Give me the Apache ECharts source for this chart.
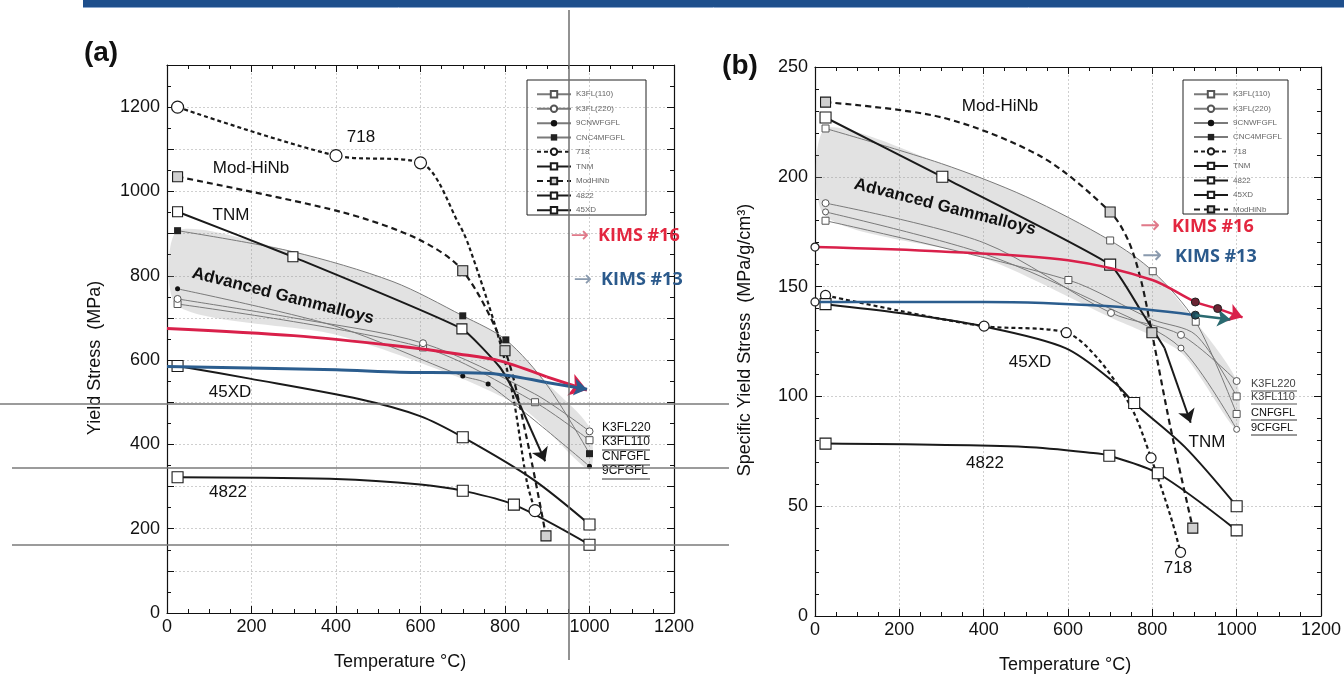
<!DOCTYPE html>
<html><head><meta charset="utf-8">
<script src="https://cdn.jsdelivr.net/npm/echarts@6/dist/echarts.min.js"></script>
<style>html,body{margin:0;padding:0;background:#fff}#c{width:1344px;height:677px}</style>
</head><body><div id="c"></div>
<script>
// ---------- Panel (a): Yield stress (MPa) vs temperature ----------
// [temperature, value, marker(1) / curve point(0) / open marker(2)]
const a_718      = [[25,1200,1],[400,1085,1],[600,1068,1],[693,919,0],[717,864,0],[781,667,0],[819,514,0],[852,310,0],[871,243,1]];
const a_modhinb  = [[25,1035,1],[410,952,0],[592,888,0],[700,812,1],[800,622,1],[852,412,0],[897,183,1]];
const a_tnm      = [[25,952,1],[298,845,1],[698,674,1],[788,583,0],[819,531,0]];
const a_tnmArrow = [[819,531],[895,360]];
const a_4822     = [[25,322,1],[400,318,0],[600,305,0],[700,290,1],[821,257,1],[1000,162,1]];
const a_45xd     = [[25,586,1],[196,556,0],[457,507,0],[599,467,0],[700,417,1],[866,317,0],[1000,210,1]];
const a_k3fl110  = [[25,733,1],[606,630,1],[871,500,1],[1000,410,1]];
const a_k3fl220  = [[25,745,1],[300,700,0],[606,640,1],[870,520,0],[1000,431,1]];
const a_9cnw     = [[25,769,1],[400,680,0],[700,562,1],[760,543,1],[1000,348,1]];
const a_cnc4     = [[25,907,1],[298,857,0],[535,786,0],[700,705,1],[802,648,1],[900,540,0],[1000,378,1]];
const a_bandTop  = [[25,907],[298,857],[535,786],[700,705],[802,648],[900,545],[1000,440]];
const a_bandBot  = [[1000,340],[850,480],[700,555],[400,660],[25,728]];
const a_kims16   = [[0,675],[300,658],[551,633],[693,614],[788,598],[899,560]];
const a_kims16Ar = [[899,560],[994,529]];
const a_kims13   = [[0,585],[400,577],[551,571],[693,570],[788,566],[899,547]];
const a_kims13Ar = [[899,547],[994,531]];

// ---------- Panel (b): Specific yield stress (MPa/g/cm3) ----------
const b_718      = [[25,146,1],[200,139,0],[401,132,1],[596,129,1],[672,117,0],[750,95,0],[797,72,1],[844,45,0],[867,29,1]];
const b_modhinb  = [[25,234,1],[302,227,0],[538,209,0],[700,184,1],[743,171,0],[773,153,0],[799,129,1],[844,85,0],[896,40,1]];
const b_tnm      = [[25,227,1],[302,200,1],[700,160,1],[773,139,0],[829,122,0]];
const b_tnmArrow = [[829,122],[891,88]];
const b_4822     = [[25,78.5,1],[500,77,0],[672,74,0],[698,73,1],[813,65,1],[1000,39,1]];
const b_45xd     = [[25,142,1],[200,138,0],[396,132,0],[594,122,0],[712,106,0],[757,97,1],[877,77,0],[1000,50,1]];
const b_cnc4     = [[25,222,1],[300,206,0],[500,191,0],[700,171,1],[801,157,1],[903,134,1],[1000,92,1]];
const b_k3fl110  = [[25,180,1],[601,153,1],[800,135,0],[903,128,0],[1000,100,1]];
const b_k3fl220  = [[25,188,1],[400,170,0],[702,138,1],[868,128,1],[1000,107,1]];
const b_9cnw     = [[25,184,1],[400,165,0],[700,140,0],[868,122,1],[1000,85,1]];
const b_bandTop  = [[25,222],[300,206],[500,191],[700,171],[801,157],[903,134],[1000,107]];
const b_bandBot  = [[1000,85],[868,120],[700,136],[400,163],[25,182]];
const b_kims16   = [[0,168,2],[300,166,0],[600,162,0],[800,153,0],[902,143,1],[955,140,1]];
const b_kims16Ar = [[955,140],[1014,136]];
const b_kims13   = [[0,143,2],[400,143,0],[700,141,0],[902,137,1]];
const b_kims13Ar = [[902,137],[985,135]];

const legendA = ['K3FL(110)','K3FL(220)','9CNWFGFL','CNC4MFGFL','718','TNM','ModHiNb','4822','45XD'];
const legendB = ['K3FL(110)','K3FL(220)','9CNWFGFL','CNC4MFGFL','718','TNM','4822','45XD','ModHiNb'];

const FONT = '"Liberation Sans", Arial, sans-serif';
const chart = echarts.init(document.getElementById('c'));

function toData(arr){
  return arr.map(p => {
    if (p.length > 2 && p[2] === 0) return {value:[p[0],p[1]], symbol:'none'};
    if (p.length > 2 && p[2] === 2) return {value:[p[0],p[1]], itemStyle:{color:'#fff', borderColor:'#222', borderWidth:1.2}};
    return [p[0],p[1]];
  });
}
function S(name, arr, panel, o){
  return Object.assign({type:'line', name, xAxisIndex: panel*2, yAxisIndex: panel*2,
    data: toData(arr), animation:false, silent:true, z:3}, o);
}
function arrowLine(seg, color, width, size){
  return {silent:true, animation:false, symbol:['none','arrow'], symbolSize:size,
    lineStyle:{color, width, type:'solid'}, label:{show:false},
    data:[[{coord:seg[0]},{coord:seg[1]}]]};
}
function band(name, pts, panel){
  return {type:'custom', name, xAxisIndex: panel*2, yAxisIndex: panel*2, silent:true, z:1,
    animation:false, data:[[0,0]],
    renderItem:(params, api) => ({type:'polygon',
      shape:{points: pts.map(p => api.coord(p)), smooth:0.25},
      style:{fill:'rgba(150,150,150,0.28)'}})};
}

const black = '#1a1a1a', thin = '#7a7a7a';
const st = {
  d718:  {symbol:'circle', lineStyle:{color:black,width:2.2,type:[4,3]}, itemStyle:{color:'#fff',borderColor:black,borderWidth:1.2}, smooth:0.3},
  dmod:  {symbol:'rect', lineStyle:{color:black,width:2.2,type:[6,4]}, itemStyle:{color:'#d0d0d0',borderColor:black,borderWidth:1.1}, smooth:0.3},
  solid: {symbol:'rect', lineStyle:{color:black,width:2}, itemStyle:{color:'#fff',borderColor:black,borderWidth:1.1}, smooth:0.3},
  tsq:   {symbol:'rect', symbolSize:7, lineStyle:{color:thin,width:1}, itemStyle:{color:'#fff',borderColor:'#555',borderWidth:1}, smooth:0.3, z:2},
  tci:   {symbol:'circle', symbolSize:7, lineStyle:{color:thin,width:1}, itemStyle:{color:'#fff',borderColor:'#555',borderWidth:1}, smooth:0.3, z:2},
  tfc:   {symbol:'circle', symbolSize:5, lineStyle:{color:thin,width:1}, itemStyle:{color:'#111'}, smooth:0.3, z:2},
  tfs:   {symbol:'rect', symbolSize:7, lineStyle:{color:thin,width:1}, itemStyle:{color:'#222'}, smooth:0.3, z:2}
};
const RED = '#d9204a', BLUE = '#2b5d8e';

const series = [
  band('bandA', a_bandTop.concat(a_bandBot), 0),
  band('bandB', b_bandTop.concat(b_bandBot), 1),
  // panel a
  S('K3FL(110)', a_k3fl110, 0, st.tsq),
  S('K3FL(220)', a_k3fl220, 0, st.tci),
  S('9CNWFGFL', a_9cnw, 0, st.tfc),
  S('CNC4MFGFL', a_cnc4, 0, st.tfs),
  S('718', a_718, 0, Object.assign({symbolSize:12}, st.d718)),
  S('ModHiNb', a_modhinb, 0, Object.assign({symbolSize:10}, st.dmod)),
  S('TNM', a_tnm, 0, Object.assign({symbolSize:10, markLine: arrowLine(a_tnmArrow, black, 2, 13)}, st.solid, {smooth:0.15})),
  S('4822', a_4822, 0, Object.assign({symbolSize:11}, st.solid)),
  S('45XD', a_45xd, 0, Object.assign({symbolSize:11}, st.solid)),
  S('KIMS16a', a_kims16, 0, {symbol:'none', smooth:0.3, z:5, lineStyle:{color:RED,width:3}, markLine: arrowLine(a_kims16Ar, RED, 3, 17)}),
  S('KIMS13a', a_kims13, 0, {symbol:'none', smooth:0.3, z:4, lineStyle:{color:BLUE,width:3}, markLine: arrowLine(a_kims13Ar, BLUE, 3, 13)}),
  // panel b
  S('K3FL(110)', b_k3fl110, 1, st.tsq),
  S('K3FL(220)', b_k3fl220, 1, st.tci),
  S('9CNWFGFL', b_9cnw, 1, Object.assign({}, st.tci, {symbolSize:6})),
  S('CNC4MFGFL', b_cnc4, 1, st.tsq),
  S('718', b_718, 1, Object.assign({symbolSize:10}, st.d718)),
  S('ModHiNb', b_modhinb, 1, Object.assign({symbolSize:10}, st.dmod)),
  S('TNM', b_tnm, 1, Object.assign({symbolSize:11, markLine: arrowLine(b_tnmArrow, black, 2, 13)}, st.solid, {smooth:0.15})),
  S('4822', b_4822, 1, Object.assign({symbolSize:11}, st.solid)),
  S('45XD', b_45xd, 1, Object.assign({symbolSize:11}, st.solid)),
  S('KIMS16b', b_kims16, 1, {symbol:'circle', symbolSize:8, smooth:0.3, z:5, lineStyle:{color:RED,width:2.5},
     itemStyle:{color:'#6a2433',borderColor:'#222',borderWidth:1}, markLine: arrowLine(b_kims16Ar, RED, 2.5, 14)}),
  S('KIMS13b', b_kims13, 1, {symbol:'circle', symbolSize:8, smooth:0.3, z:4, lineStyle:{color:BLUE,width:2.5},
     itemStyle:{color:'#1e4a5a',borderColor:'#222',borderWidth:1}, markLine: arrowLine(b_kims13Ar, '#2a6a70', 2.5, 13)})
];

const plain = v => String(v);
function xA(g, pos, lab){
  return {type:'value', gridIndex:g, position:pos, min:0, max:1200, interval:200,
    axisLine:{show:true, onZero:false, lineStyle:{color:'#111', width:1.2}},
    axisTick:{show:true, inside:true, length:7, lineStyle:{color:'#111'}},
    minorTick:{show:true, splitNumber:4, length:4, lineStyle:{color:'#111'}},
    axisLabel:{show:lab, fontSize:18, color:'#111', fontFamily:FONT, margin:5, formatter:plain},
    splitLine:{show:lab, lineStyle:{color:'#cfcfcf', type:[2,2], width:1}}};
}
function yA(g, pos, lab, max, interval, minor, fmt){
  return {type:'value', gridIndex:g, position:pos, min:0, max, interval,
    axisLine:{show:true, onZero:false, lineStyle:{color:'#111', width:1.2}},
    axisTick:{show:true, inside:true, length:7, lineStyle:{color:'#111'}},
    minorTick:{show:true, splitNumber:minor, length:4, lineStyle:{color:'#111'}},
    axisLabel:{show:lab, fontSize:18, color:'#111', fontFamily:FONT, margin:7, formatter:fmt || plain},
    splitLine:{show:lab, lineStyle:{color:'#cfcfcf', type:[2,2], width:1}}};
}

function T(text, x, y, o){
  o = o || {};
  return {type:'text', x, y, rotation:o.rot||0, z:100,
    style:{text, fill:o.color||'#111', font:o.font||('17px '+FONT), align:o.align||'center', verticalAlign:'middle'}};
}
function L(x1,y1,x2,y2,color,w){
  return {type:'line', z:100, shape:{x1,y1,x2,y2}, style:{stroke:color, lineWidth:w}};
}

const graphic = [
  {type:'rect', z:100, shape:{x:83,y:0,width:1261,height:7}, style:{fill:'#1e4f8c'}},
  L(83,7.5,1344,7.5,'#8aa6cc',1),
  T('(a)',101,53,{font:'bold 28px '+FONT}),
  T('(b)',740,66,{font:'bold 28px '+FONT}),
  T('Yield Stress  (MPa)',95,358,{rot:Math.PI/2, font:'18px '+FONT}),
  T('Specific Yield Stress  (MPa/g/cm³)',745,340,{rot:Math.PI/2, font:'18px '+FONT}),
  T('Temperature °C)',400,662,{font:'18px '+FONT}),
  T('Temperature °C)',1065,665,{font:'18px '+FONT}),
  // panel a annotations
  T('718',361,137),
  T('Mod-HiNb',251,168),
  T('TNM',231,215),
  T('Advanced Gammalloys',283,296,{rot:-0.25, font:'bold 17px '+FONT}),
  T('45XD',230,392),
  T('4822',228,492),
  T('→',580,236,{color:'#e07a8a', font:'22px "DejaVu Sans"'}),
  T('KIMS #16',598,236,{color:'#e3263f', align:'left', font:'bold 18px "Open Sans"'}),
  T('→',583,280,{color:'#8a9aae', font:'22px "DejaVu Sans"'}),
  T('KIMS #13',601,280,{color:'#2b5a8c', align:'left', font:'bold 18px "Open Sans"'}),
  T('K3FL220',602,428,{align:'left', font:'12px '+FONT}),
  T('K3FL110',602,442,{align:'left', font:'12px '+FONT}),
  T('CNFGFL',602,457,{align:'left', font:'12px '+FONT}),
  T('9CFGFL',602,471,{align:'left', font:'12px '+FONT}),
  L(602,436,650,436,'#333',1), L(602,450,650,450,'#333',1), L(602,465,650,465,'#333',1), L(602,479,650,479,'#333',1),
  // panel b annotations
  T('Mod-HiNb',1000,106),
  T('Advanced Gammalloys',945,207,{rot:-0.25, font:'bold 17px '+FONT}),
  T('45XD',1030,362),
  T('TNM',1207,442),
  T('4822',985,463),
  T('718',1178,568),
  T('→',1150,227,{color:'#e07a8a', font:'24px "DejaVu Sans"'}),
  T('KIMS #16',1172,227,{color:'#e3263f', align:'left', font:'bold 18px "Open Sans"'}),
  T('→',1152,257,{color:'#8a9aae', font:'24px "DejaVu Sans"'}),
  T('KIMS #13',1175,257,{color:'#2b5a8c', align:'left', font:'bold 18px "Open Sans"'}),
  T('K3FL220',1251,384,{align:'left', font:'11px '+FONT, color:'#444'}),
  T('K3FL110',1251,397,{align:'left', font:'11px '+FONT, color:'#444'}),
  T('CNFGFL',1251,413,{align:'left', font:'11px '+FONT}),
  T('9CFGFL',1251,428,{align:'left', font:'11px '+FONT}),
  L(1251,391,1297,391,'#555',1), L(1251,404,1297,404,'#555',1), L(1251,420,1297,420,'#333',1), L(1251,435,1297,435,'#333',1),
  // legend frames
  {type:'rect', z:90, shape:{x:527,y:80,width:119,height:135}, style:{fill:'none', stroke:'#222', lineWidth:1}},
  {type:'rect', z:90, shape:{x:1183,y:80,width:105,height:134}, style:{fill:'none', stroke:'#222', lineWidth:1}},
  // overlay guide lines from the source figure
  L(569,10,569,660,'#6e6e6e',1.5),
  L(0,404,729,404,'#7a7a7a',1.5),
  L(12,468,729,468,'#7a7a7a',1.5),
  L(12,545,729,545,'#7a7a7a',1.5)
];

chart.setOption({
  backgroundColor:'#fff',
  animation:false,
  grid:[{left:167, top:65, width:507, height:548}, {left:815, top:67, width:509, height:549}],
  xAxis:[xA(0,'bottom',true), xA(0,'top',false), xA(1,'bottom',true), xA(1,'top',false)],
  yAxis:[
    yA(0,'left',true,1300,100,2, v => (v % 200 === 0 && v <= 1200) ? String(v) : ''),
    yA(0,'right',false,1300,100,2),
    yA(1,'left',true,250,50,5),
    yA(1,'right',false,250,50,5)
  ],
  legend:[
    {left:531, top:85, orient:'vertical', itemWidth:34, itemHeight:8, itemGap:6.2, selectedMode:false,
     data:legendA, textStyle:{fontSize:8, color:'#666', fontFamily:FONT}},
    {left:1188, top:85, orient:'vertical', itemWidth:34, itemHeight:8, itemGap:6.1, selectedMode:false,
     data:legendB, textStyle:{fontSize:8, color:'#666', fontFamily:FONT}}
  ],
  series,
  graphic
});
</script></body></html>
